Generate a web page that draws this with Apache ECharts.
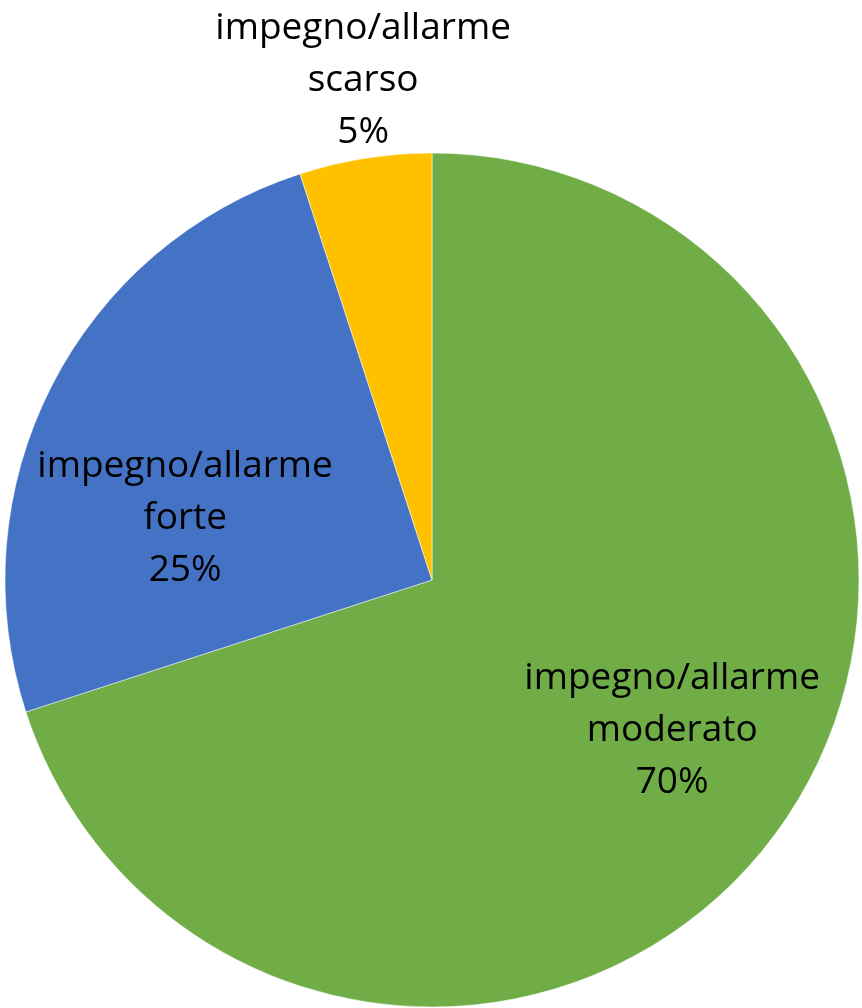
<!DOCTYPE html>
<html><head><meta charset="utf-8">
<script src="https://cdn.jsdelivr.net/npm/echarts@6/dist/echarts.min.js"></script>
<style>html,body{margin:0;padding:0;background:#fff}#c{width:862px;height:1008px}</style>
</head><body><div id="c"></div>
<script>
const categories = ['impegno/allarme\nmoderato', 'impegno/allarme\nforte', 'impegno/allarme\nscarso'];
const values = [70, 25, 5];
const colors = ['#70AD47', '#4472C4', '#FFC000'];
const labelOffsets = [[65, 23], [-54, 37], [-35, -286]];

const chart = echarts.init(document.getElementById('c'));
chart.setOption({
  animation: false,
  series: [{
    type: 'pie',
    center: [432, 580],
    radius: [0, 427],
    startAngle: 90,
    clockwise: true,
    avoidLabelOverlap: false,
    itemStyle: { borderColor: '#fff', borderWidth: 0.5 },
    label: {
      position: 'inside',
      formatter: '{b}\n{d}%',
      fontFamily: 'Open Sans',
      fontSize: 37,
      lineHeight: 52,
      color: '#000',
      align: 'center'
    },
    labelLine: { show: false },
    data: categories.map((n, i) => ({
      name: n, value: values[i],
      itemStyle: { color: colors[i] },
      label: { offset: labelOffsets[i] }
    }))
  }]
});
</script></body></html>
